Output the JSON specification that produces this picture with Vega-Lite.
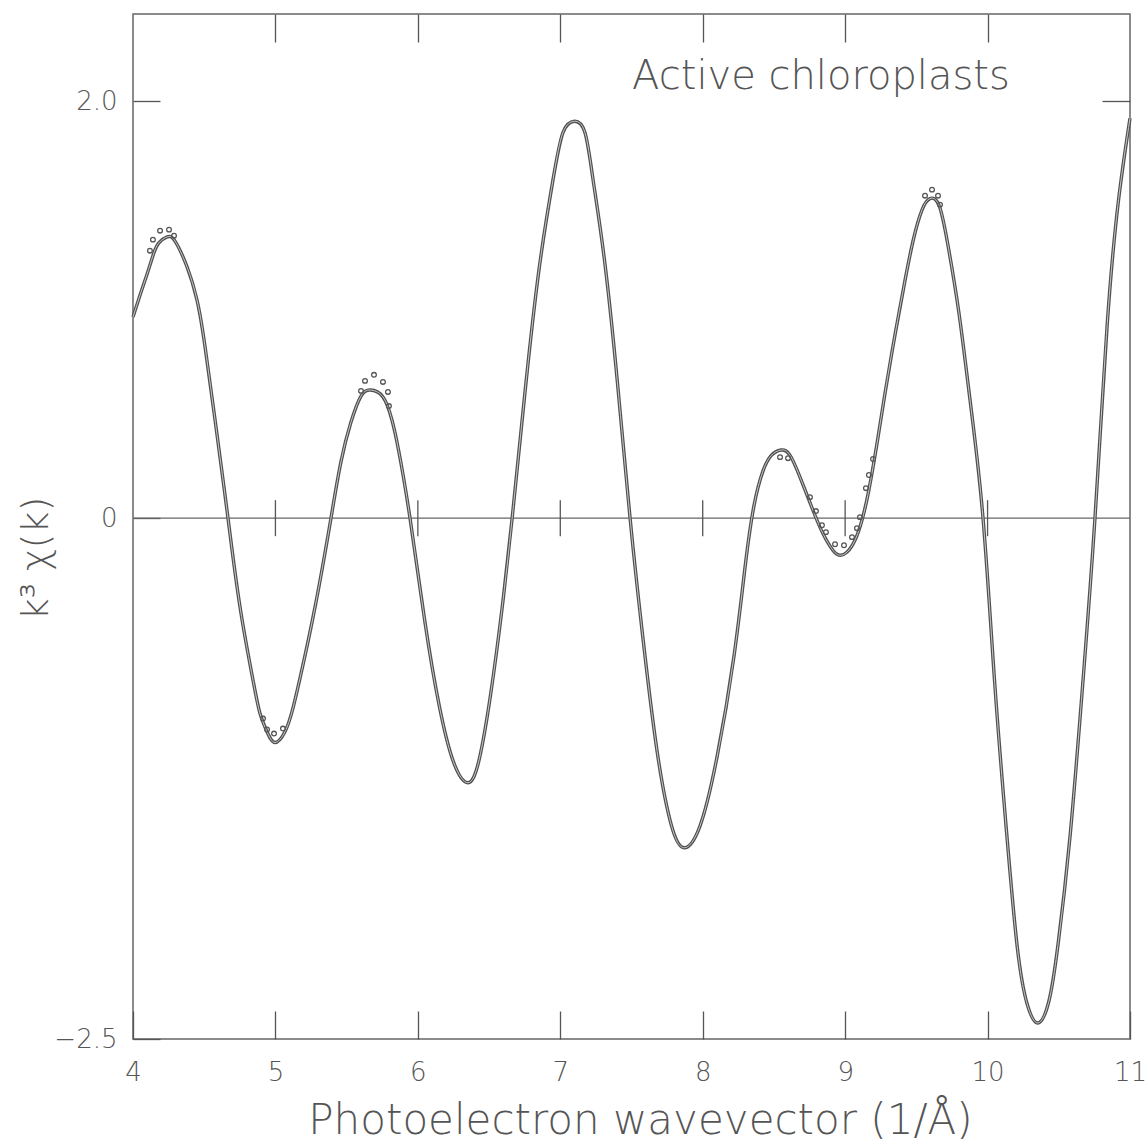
{
  "$schema": "https://vega.github.io/schema/vega-lite/v6.json",
  "width": 997,
  "height": 1025,
  "autosize": {"type": "none"},
  "padding": {"left": 133, "top": 14, "right": 16, "bottom": 106},
  "background": "white",
  "config": {
    "view": {"stroke": "#666666", "strokeWidth": 1.5},
    "font": "DejaVu Sans",
    "axis": {
      "domain": false, "grid": false,
      "tickColor": "#555555", "tickWidth": 1.3,
      "labelColor": "#555555", "titleColor": "#555555",
      "labelFont": "DejaVu Sans", "titleFont": "DejaVu Sans",
      "labelFontWeight": 200, "titleFontWeight": 200,
      "labelFlush": false, "labelOverlap": false
    }
  },
  "datasets": {
    "fit": [
      {"k": 4.0, "chi": 0.966}, {"k": 4.049, "chi": 1.07}, {"k": 4.098, "chi": 1.17}, {"k": 4.14, "chi": 1.26},
      {"k": 4.18, "chi": 1.32}, {"k": 4.24, "chi": 1.35}, {"k": 4.295, "chi": 1.33},
      {"k": 4.379, "chi": 1.207}, {"k": 4.449, "chi": 1.048}, {"k": 4.506, "chi": 0.822}, {"k": 4.59, "chi": 0.4},
      {"k": 4.667, "chi": 0.0}, {"k": 4.75, "chi": -0.42}, {"k": 4.843, "chi": -0.779}, {"k": 4.892, "chi": -0.938},
      {"k": 4.941, "chi": -1.025}, {"k": 4.997, "chi": -1.077}, {"k": 5.067, "chi": -1.025}, {"k": 5.116, "chi": -0.93},
      {"k": 5.172, "chi": -0.77}, {"k": 5.28, "chi": -0.42}, {"k": 5.39, "chi": 0.0}, {"k": 5.46, "chi": 0.27},
      {"k": 5.53, "chi": 0.46}, {"k": 5.6, "chi": 0.585}, {"k": 5.665, "chi": 0.615}, {"k": 5.755, "chi": 0.582},
      {"k": 5.818, "chi": 0.471}, {"k": 5.865, "chi": 0.325}, {"k": 5.945, "chi": 0.0}, {"k": 6.05, "chi": -0.5},
      {"k": 6.15, "chi": -0.9}, {"k": 6.25, "chi": -1.17}, {"k": 6.352, "chi": -1.27}, {"k": 6.43, "chi": -1.16},
      {"k": 6.51, "chi": -0.85}, {"k": 6.59, "chi": -0.44}, {"k": 6.662, "chi": 0.0}, {"k": 6.75, "chi": 0.59},
      {"k": 6.85, "chi": 1.19}, {"k": 6.949, "chi": 1.625}, {"k": 7.019, "chi": 1.851}, {"k": 7.1, "chi": 1.905},
      {"k": 7.173, "chi": 1.851}, {"k": 7.23, "chi": 1.625}, {"k": 7.31, "chi": 1.24}, {"k": 7.4, "chi": 0.66},
      {"k": 7.49, "chi": 0.0}, {"k": 7.58, "chi": -0.574}, {"k": 7.68, "chi": -1.12}, {"k": 7.78, "chi": -1.474},
      {"k": 7.87, "chi": -1.582}, {"k": 7.98, "chi": -1.479}, {"k": 8.1, "chi": -1.148}, {"k": 8.22, "chi": -0.66},
      {"k": 8.3, "chi": -0.22}, {"k": 8.36, "chi": 0.06}, {"k": 8.42, "chi": 0.22}, {"k": 8.48, "chi": 0.3},
      {"k": 8.55, "chi": 0.327}, {"k": 8.61, "chi": 0.305}, {"k": 8.683, "chi": 0.197}, {"k": 8.774, "chi": 0.038},
      {"k": 8.845, "chi": -0.075}, {"k": 8.915, "chi": -0.155}, {"k": 8.964, "chi": -0.178}, {"k": 9.013, "chi": -0.163},
      {"k": 9.069, "chi": -0.106}, {"k": 9.118, "chi": -0.01}, {"k": 9.165, "chi": 0.13}, {"k": 9.224, "chi": 0.36},
      {"k": 9.28, "chi": 0.6}, {"k": 9.35, "chi": 0.88}, {"k": 9.42, "chi": 1.14}, {"k": 9.48, "chi": 1.34},
      {"k": 9.54, "chi": 1.48}, {"k": 9.596, "chi": 1.534}, {"k": 9.66, "chi": 1.5}, {"k": 9.722, "chi": 1.31},
      {"k": 9.8, "chi": 0.98}, {"k": 9.88, "chi": 0.55}, {"k": 9.968, "chi": 0.0}, {"k": 10.05, "chi": -0.79},
      {"k": 10.13, "chi": -1.48}, {"k": 10.207, "chi": -2.05}, {"k": 10.277, "chi": -2.33}, {"k": 10.354, "chi": -2.423},
      {"k": 10.43, "chi": -2.32}, {"k": 10.494, "chi": -2.05}, {"k": 10.58, "chi": -1.52}, {"k": 10.67, "chi": -0.78},
      {"k": 10.754, "chi": 0.0}, {"k": 10.84, "chi": 0.93}, {"k": 10.92, "chi": 1.53}, {"k": 11.0, "chi": 1.92}
    ],
    "obs": [
      {"k": 4.119, "chi": 1.284}, {"k": 4.14, "chi": 1.337}, {"k": 4.19, "chi": 1.38}, {"k": 4.253, "chi": 1.385},
      {"k": 4.288, "chi": 1.356}, {"k": 4.913, "chi": -0.962}, {"k": 4.941, "chi": -1.014}, {"k": 4.99, "chi": -1.034},
      {"k": 5.053, "chi": -1.01}, {"k": 5.601, "chi": 0.611}, {"k": 5.629, "chi": 0.659}, {"k": 5.692, "chi": 0.688},
      {"k": 5.755, "chi": 0.654}, {"k": 5.79, "chi": 0.606}, {"k": 5.797, "chi": 0.538}, {"k": 8.543, "chi": 0.293},
      {"k": 8.599, "chi": 0.288}, {"k": 8.753, "chi": 0.101}, {"k": 8.795, "chi": 0.034}, {"k": 8.837, "chi": -0.034},
      {"k": 8.865, "chi": -0.067}, {"k": 8.929, "chi": -0.125}, {"k": 8.992, "chi": -0.13}, {"k": 9.048, "chi": -0.091},
      {"k": 9.083, "chi": -0.048}, {"k": 9.104, "chi": 0.005}, {"k": 9.146, "chi": 0.144}, {"k": 9.167, "chi": 0.207},
      {"k": 9.196, "chi": 0.284}, {"k": 9.561, "chi": 1.548}, {"k": 9.61, "chi": 1.577}, {"k": 9.652, "chi": 1.548},
      {"k": 9.666, "chi": 1.505}
    ],
    "zt": [{"k": 5}, {"k": 6}, {"k": 7}, {"k": 8}, {"k": 9}, {"k": 10}]
  },
  "layer": [
    {
      "data": {"values": [{"v": 0}]},
      "mark": {"type": "rule", "stroke": "#666666", "strokeWidth": 1.3},
      "encoding": {
        "y": {"field": "v", "type": "quantitative", "scale": {"domain": [-2.5, 2.42], "nice": false, "zero": false}, "axis": null}
      }
    },
    {
      "data": {"name": "zt"},
      "mark": {"type": "tick", "orient": "vertical", "size": 36, "thickness": 1.3, "color": "#555555", "opacity": 1},
      "encoding": {
        "x": {"field": "k", "type": "quantitative", "scale": {"domain": [4, 11], "nice": false, "zero": false},
              "axis": {"orient": "top", "values": [5, 6, 7, 8, 9, 10], "labels": false, "tickSize": -28, "title": null}},
        "y": {"datum": 0, "type": "quantitative", "scale": {"domain": [-2.5, 2.42], "nice": false, "zero": false},
              "axis": {"orient": "right", "values": [2], "labels": false, "tickSize": -28, "title": null}}
      }
    },
    {
      "data": {"name": "fit"},
      "mark": {"type": "line", "interpolate": "natural", "stroke": "#505050", "strokeWidth": 3.4},
      "encoding": {
        "x": {"field": "k", "type": "quantitative", "scale": {"domain": [4, 11], "nice": false, "zero": false},
              "axis": {"orient": "bottom", "values": [4, 5, 6, 7, 8, 9, 10, 11], "tickSize": -28, "labelPadding": 69,
                       "labelBaseline": "alphabetic", "labelFontSize": 26,
                       "title": "Photoelectron wavevector (1/Å)", "titleFontSize": 42, "titleX": 507, "titleY": 94,
                       "titleBaseline": "alphabetic", "titleAlign": "center"}},
        "y": {"field": "chi", "type": "quantitative", "scale": {"domain": [-2.5, 2.42], "nice": false, "zero": false},
              "axis": {"orient": "left", "values": [-2.5, 0, 2], "tickSize": -27, "labelPadding": 43, "labelFontSize": 26,
                       "labelExpr": "datum.value == 0 ? '0' : format(datum.value, '.1f')",
                       "title": "k³ χ(k)", "titleFontSize": 38, "titleAngle": 270, "titleX": -97, "titleY": 544,
                       "titleAlign": "center", "titleBaseline": "middle"}}
      }
    },
    {
      "data": {"name": "fit"},
      "mark": {"type": "line", "interpolate": "natural", "stroke": "#c8c8c8", "strokeWidth": 1.0},
      "encoding": {
        "x": {"field": "k", "type": "quantitative", "scale": {"domain": [4, 11], "nice": false, "zero": false}, "axis": null},
        "y": {"field": "chi", "type": "quantitative", "scale": {"domain": [-2.5, 2.42], "nice": false, "zero": false}, "axis": null}
      }
    },
    {
      "data": {"name": "obs"},
      "mark": {"type": "point", "filled": false, "size": 22, "stroke": "#555555", "strokeWidth": 1.3, "opacity": 1},
      "encoding": {
        "x": {"field": "k", "type": "quantitative", "scale": {"domain": [4, 11], "nice": false, "zero": false}, "axis": null},
        "y": {"field": "chi", "type": "quantitative", "scale": {"domain": [-2.5, 2.42], "nice": false, "zero": false}, "axis": null}
      }
    },
    {
      "data": {"values": [{"label": "Active chloroplasts"}]},
      "mark": {"type": "text", "fontSize": 40, "fontWeight": 200, "font": "DejaVu Sans", "color": "#555555", "align": "center", "baseline": "middle"},
      "encoding": {
        "x": {"datum": 8.83, "type": "quantitative", "scale": {"domain": [4, 11], "nice": false, "zero": false}, "axis": null},
        "y": {"datum": 2.12, "type": "quantitative", "scale": {"domain": [-2.5, 2.42], "nice": false, "zero": false}, "axis": null},
        "text": {"field": "label"}
      }
    }
  ]
}
